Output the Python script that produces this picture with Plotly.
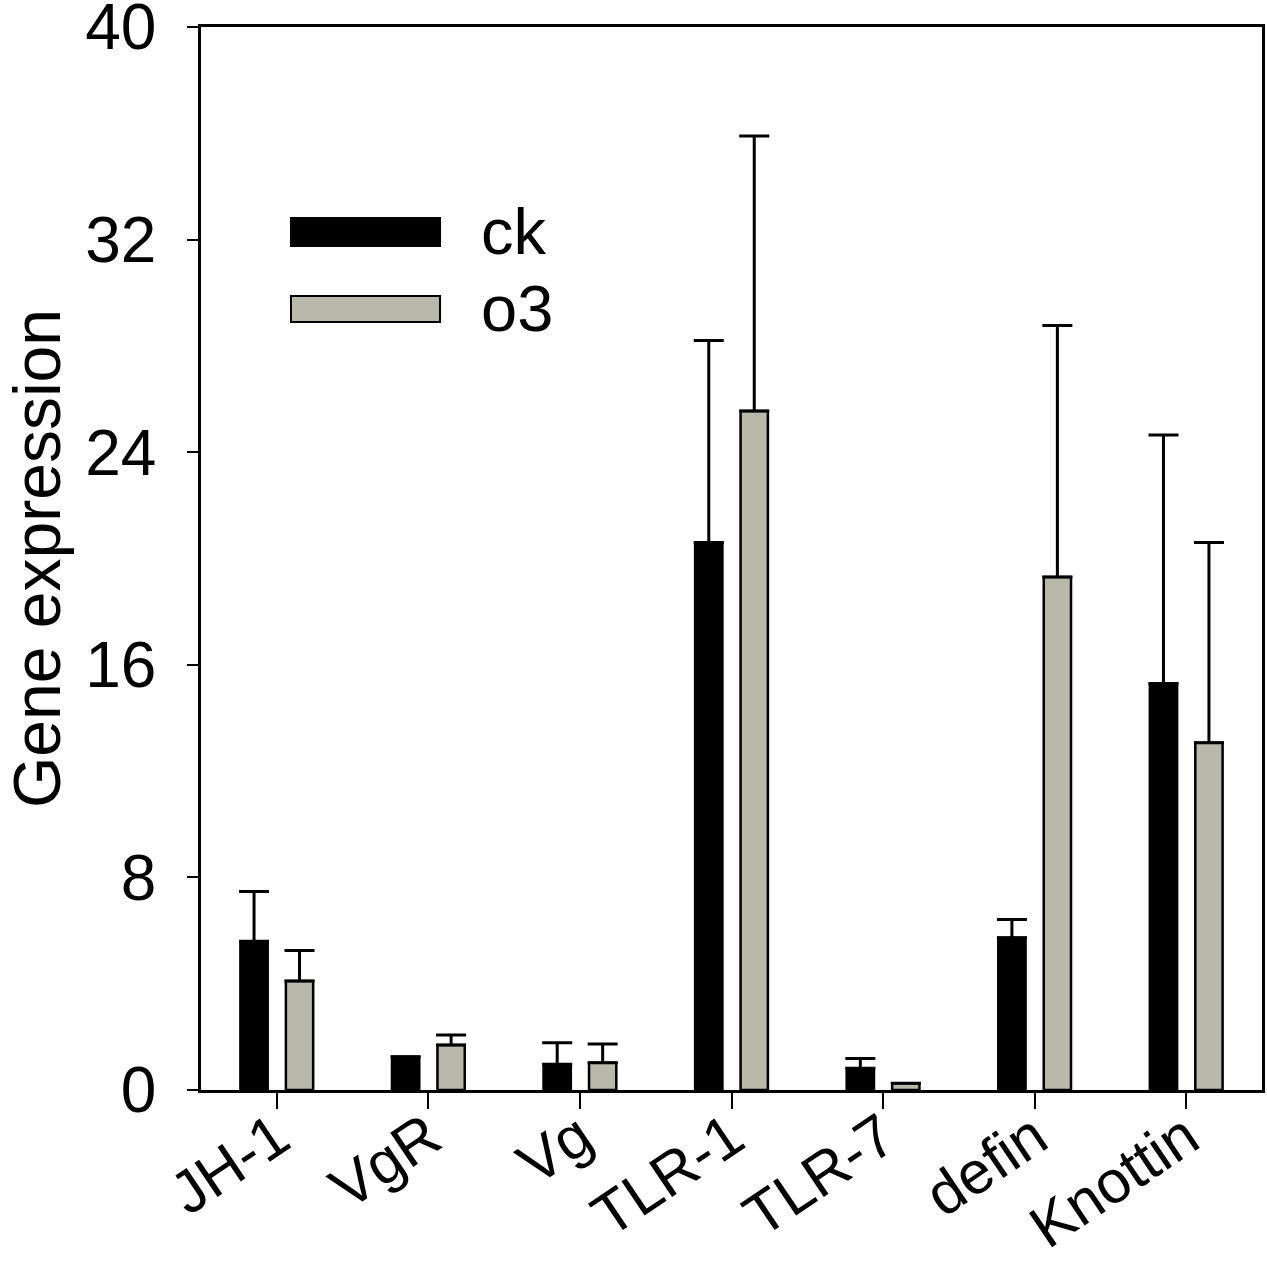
"""Gene expression of ck vs o3 (grouped bars with upper error bars)."""

import plotly.graph_objects as go

GENES = ["JH-1", "VgR", "Vg", "TLR-1", "TLR-7", "defin", "Knottin"]
SERIES = ["ck", "o3"]
CK_MEAN = [5.6, 1.25, 0.97, 20.6, 0.82, 5.73, 15.3]
CK_ERR = [1.87, 0.0, 0.81, 7.6, 0.37, 0.69, 9.35]
O3_MEAN = [4.1, 1.69, 1.03, 25.55, 0.25, 19.3, 13.07]
O3_ERR = [1.15, 0.38, 0.70, 10.35, 0.0, 9.47, 7.53]
Y_TICKS = [0, 8, 16, 24, 32, 40]

COLORS = {"ck": "#000000", "o3": "#b8b8ab"}
FONT = "Liberation Sans, Arial, sans-serif"


def bar(name, means, errs):
    return go.Bar(
        name=name,
        x=GENES,
        y=means,
        marker={"color": COLORS[name], "line": {"color": "black", "width": 2.5}},
        error_y={
            "type": "data",
            "symmetric": False,
            "array": errs,
            "arrayminus": [0] * len(errs),
            "color": "black",
            "thickness": 3,
            "width": 15,
        },
        showlegend=False,
    )


fig = go.Figure([bar("ck", CK_MEAN, CK_ERR), bar("o3", O3_MEAN, O3_ERR)])

# hand-drawn legend: long flat swatches like the original
legend_rows = [(0.794, 0.8203), (0.7225, 0.747)]
for name, (y0, y1) in zip(SERIES, legend_rows):
    fig.add_shape(
        type="rect", xref="paper", yref="paper",
        x0=0.0848, x1=0.2253, y0=y0, y1=y1,
        fillcolor=COLORS[name], line={"color": "black", "width": 2},
    )
    fig.add_annotation(
        text=name, xref="paper", yref="paper",
        x=0.262, y=(y0 + y1) / 2, xanchor="left", yanchor="middle",
        showarrow=False, font={"size": 65, "color": "black"},
    )

fig.update_layout(
    width=1267,
    height=1268,
    margin={"l": 201, "r": 5, "t": 27, "b": 178, "autoexpand": False},
    barmode="group",
    bargap=0.4,
    bargroupgap=0.4,
    plot_bgcolor="white",
    paper_bgcolor="white",
    font={"family": FONT, "color": "black"},
)
fig.update_xaxes(
    range=[-0.5, 6.5],
    automargin=False,
    showline=True, linecolor="black", linewidth=2.5, mirror=True,
    ticks="outside", ticklen=16, tickwidth=2, tickcolor="black",
    tickangle=-34, tickfont={"size": 60},
    ticklabelstandoff=-30,
    showgrid=False,
)
fig.update_yaxes(
    range=[0, 40],
    tickvals=Y_TICKS,
    automargin=False,
    showline=True, linecolor="black", linewidth=2.5, mirror=True,
    ticks="outside", ticklen=11, tickwidth=2, tickcolor="black",
    tickfont={"size": 64},
    ticklabelstandoff=18,
    ticklabeloverflow="allow",
    showgrid=False, zeroline=False,
    title={"text": "Gene expression", "font": {"size": 66}, "standoff": 29},
)

# drop the default body margin so the 1267x1268 figure fills the window exactly
fig.write_html(
    "out.html",
    config={"displayModeBar": False},
    post_script="document.body.style.margin = '0';",
)
